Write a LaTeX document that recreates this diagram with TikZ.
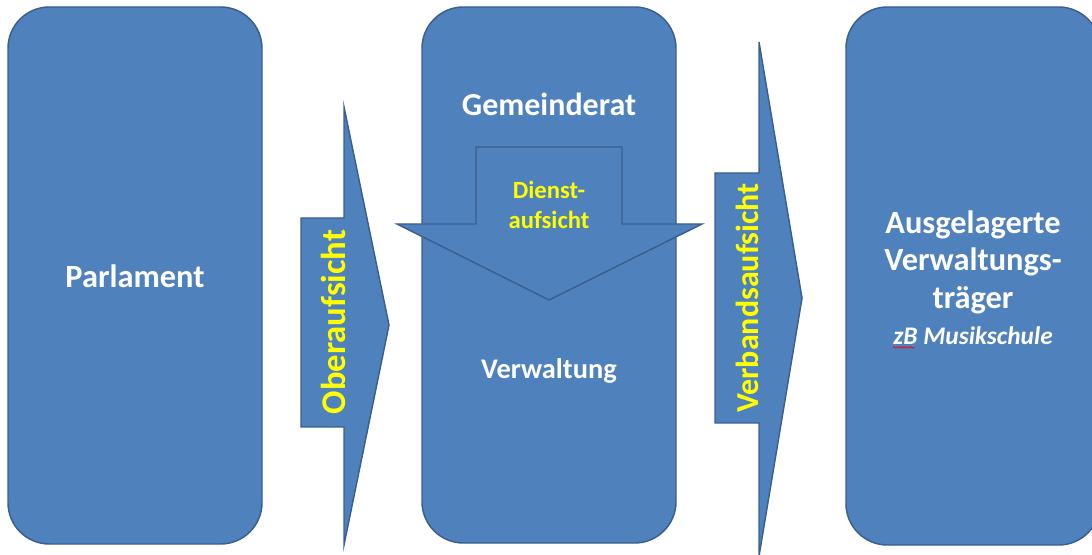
\documentclass[tikz,border=0pt]{standalone}
\usepackage{fontspec}
\setmainfont{Carlito}
\usetikzlibrary{decorations.pathmorphing}
\definecolor{boxfill}{HTML}{4F81BD}
\definecolor{boxline}{HTML}{3A5F8E}
\definecolor{lbl}{HTML}{FFFF00}
\tikzset{
  panel/.style={draw=boxline, fill=boxfill, line width=1.1pt, rounded corners=31pt, inner sep=0pt},
  shapefill/.style={draw=boxline, fill=boxfill, line width=1.1pt, line join=miter},
  whitetxt/.style={text=white, font=\bfseries\fontsize{24.3}{28.2}\selectfont, align=center, inner sep=0pt},
  yellowtxt/.style={text=lbl, font=\bfseries\fontsize{25}{28}\selectfont, align=center, inner sep=0pt},
}
\begin{document}
\begin{tikzpicture}[x=0.75pt, y=-0.75pt]
\useasboundingbox (0,0) rectangle (1092,555);
% panels
\node[panel, minimum width=190.5pt, minimum height=402.75pt] (parl) at (135,275.5) {};
\node[panel, minimum width=190.5pt, minimum height=402pt] (gem) at (549,275) {};
\node[panel, minimum width=190.5pt, minimum height=403.5pt] (ausg) at (973,276) {};
% arrows
\draw[shapefill] (301,218) -- (344,218) -- (344,107) -- (389,325) -- (344,545) -- (344,427) -- (301,427) -- cycle;
\draw[shapefill] (715,173) -- (759,173) -- (759,42) -- (802,298) -- (759,556) -- (759,423) -- (715,423) -- cycle;
\draw[shapefill] (476,147) -- (622,147) -- (622,224) -- (702,224) -- (549,300) -- (397,224) -- (476,224) -- cycle;
% texts
\node[whitetxt] (tparl) at (135,276) {Parlament};
\node[whitetxt, font=\bfseries\fontsize{24}{28}\selectfont] (tgem) at (549,104) {Gemeinderat};
\node[whitetxt, font=\bfseries\fontsize{21.3}{24}\selectfont] (tverw) at (549,371) {Verwaltung};
\node[yellowtxt, font=\bfseries\fontsize{18.5}{22.5}\selectfont] (tdienst) at (549,205) {Dienst-\\aufsicht};
\node[yellowtxt, rotate=90, font=\bfseries\fontsize{26}{28}\selectfont] (tober) at (333,322) {Oberaufsicht};
\node[yellowtxt, rotate=90, font=\bfseries\fontsize{24}{28}\selectfont] (tverb) at (747,298) {Verbandsaufsicht};
\node[whitetxt] (tausg) at (973,262) {Ausgelagerte\\Verwaltungs-\\träger};
\node[text=white, font=\bfseries\itshape\fontsize{19}{22}\selectfont, inner sep=0pt] (tzb) at (973,336) {zB Musikschule};
\coordinate (w1) at ([yshift=-2pt]tzb.base west);
\coordinate (w2) at ([xshift=16pt, yshift=-2pt]tzb.base west);
\draw[red, line width=0.5pt, decorate, decoration={snake, amplitude=0.6pt, segment length=2.5pt}] (w1) -- (w2);
\end{tikzpicture}
\end{document}
